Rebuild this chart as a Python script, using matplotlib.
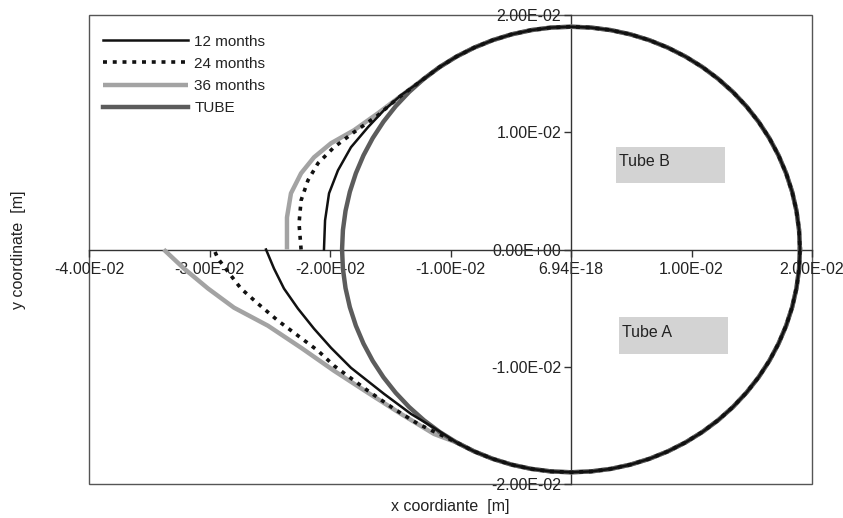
import matplotlib
matplotlib.use("Agg")
import matplotlib.pyplot as plt
from matplotlib.patches import Rectangle

plt.rcParams['font.family'] = ['Liberation Sans', 'DejaVu Sans']

# ---- data ----
# undeformed tube outline, points every 5 degrees starting at the right (x>0, y=0)
tube_x = [0.0190, 0.018928, 0.018711, 0.018353, 0.017854, 0.01722, 0.016455, 0.015564, 0.014555,
          0.013435, 0.012213, 0.010898, 0.0095, 0.00803, 0.006498, 0.004918, 0.003299, 0.001656,
          0.0, -0.001656, -0.003299, -0.004918, -0.006498, -0.00803, -0.0095, -0.010898, -0.012213,
          -0.013435, -0.014555, -0.015564, -0.016455, -0.01722, -0.017854, -0.018353, -0.018711, -0.018928,
          -0.0190, -0.018928, -0.018711, -0.018353, -0.017854, -0.01722, -0.016455, -0.015564, -0.014555,
          -0.013435, -0.012213, -0.010898, -0.0095, -0.00803, -0.006498, -0.004918, -0.003299, -0.001656,
          0.0, 0.001656, 0.003299, 0.004918, 0.006498, 0.00803, 0.0095, 0.010898, 0.012213,
          0.013435, 0.014555, 0.015564, 0.016455, 0.01722, 0.017854, 0.018353, 0.018711, 0.018928, 0.0190]
tube_y = [0.0, 0.001656, 0.003299, 0.004918, 0.006498, 0.00803, 0.0095, 0.010898, 0.012213,
          0.013435, 0.014555, 0.015564, 0.016455, 0.01722, 0.017854, 0.018353, 0.018711, 0.018928,
          0.0190, 0.018928, 0.018711, 0.018353, 0.017854, 0.01722, 0.016455, 0.015564, 0.014555,
          0.013435, 0.012213, 0.010898, 0.0095, 0.00803, 0.006498, 0.004918, 0.003299, 0.001656,
          0.0, -0.001656, -0.003299, -0.004918, -0.006498, -0.00803, -0.0095, -0.010898, -0.012213,
          -0.013435, -0.014555, -0.015564, -0.016455, -0.01722, -0.017854, -0.018353, -0.018711, -0.018928,
          -0.0190, -0.018928, -0.018711, -0.018353, -0.017854, -0.01722, -0.016455, -0.015564, -0.014555,
          -0.013435, -0.012213, -0.010898, -0.0095, -0.00803, -0.006498, -0.004918, -0.003299, -0.001656, 0.0]

# deformed upper parts (from the x axis upward)
m12_up_x = [-0.0205, -0.02041, -0.02008, -0.01934, -0.01826, -0.01685, -0.01552, -0.01411]
m12_up_y = [0.0, 0.00248, 0.00479, 0.00675, 0.00872, 0.01043, 0.01188, 0.01316]
m24_up_x = [-0.0224, -0.02257, -0.0224, -0.02183, -0.0210, -0.01967, -0.01801, -0.01602, -0.01436]
m24_up_y = [0.0, 0.00222, 0.00419, 0.0059, 0.00735, 0.00872, 0.0100, 0.01145, 0.01291]
m36_up_x = [-0.02357, -0.02357, -0.02324, -0.0224, -0.02133, -0.01992, -0.01801, -0.01602, -0.01436]
m36_up_y = [0.0, 0.00274, 0.00479, 0.0065, 0.00786, 0.00906, 0.01017, 0.01162, 0.01291]

# deformed lower parts (from the x axis downward)
m12_lo_x = [-0.02531, -0.02465, -0.02382, -0.02266, -0.02133, -0.01992, -0.01826, -0.01552, -0.01328, -0.01137]
m12_lo_y = [0.0, -0.00162, -0.00333, -0.00504, -0.00675, -0.00838, -0.01009, -0.01231, -0.01402, -0.01521]
m24_lo_x = [-0.02963, -0.0293, -0.02822, -0.02739, -0.02598, -0.02432, -0.02266, -0.0210, -0.01967, -0.01685, -0.01469, -0.0127]
m24_lo_y = [0.0, -0.00077, -0.00222, -0.00333, -0.00462, -0.00607, -0.00735, -0.00863, -0.00991, -0.01205, -0.01359, -0.01487]
m36_lo_x = [-0.0338, -0.03212, -0.03012, -0.02797, -0.02515, -0.0224, -0.01967, -0.01685, -0.01411, -0.01137]
m36_lo_y = [0.0, -0.00162, -0.00333, -0.00496, -0.0065, -0.00838, -0.01034, -0.01222, -0.01402, -0.01573]

series_labels = ["12 months", "24 months", "36 months", "TUBE"]
x_ticks = [-0.04, -0.03, -0.02, -0.01, 0.0, 0.01, 0.02]
x_tick_labels = ["-4.00E-02", "-3.00E-02", "-2.00E-02", "-1.00E-02", "6.94E-18", "1.00E-02", "2.00E-02"]
y_ticks = [-0.02, -0.01, 0.0, 0.01, 0.02]
y_tick_labels = ["-2.00E-02", "-1.00E-02", "0.00E+00", "1.00E-02", "2.00E-02"]
box_labels = ["Tube B", "Tube A"]


def build(up_x, up_y, lo_x, lo_y):
    # upper deformed part, shared tube arc (130 deg -> 0 -> 240 deg), lower part back to axis
    arc_x = tube_x[26::-1] + tube_x[71:47:-1]
    arc_y = tube_y[26::-1] + tube_y[71:47:-1]
    return up_x + arc_x + lo_x[::-1], up_y + arc_y + lo_y[::-1]


fig = plt.figure(figsize=(8.43, 5.18), dpi=100)
ax = fig.add_axes([89 / 843, 1 - 484 / 518, (812 - 89) / 843, (484 - 15) / 518])

c12x, c12y = build(m12_up_x, m12_up_y, m12_lo_x, m12_lo_y)
c24x, c24y = build(m24_up_x, m24_up_y, m24_lo_x, m24_lo_y)
c36x, c36y = build(m36_up_x, m36_up_y, m36_lo_x, m36_lo_y)

l36, = ax.plot(c36x, c36y, color='#a3a3a3', lw=3.2, solid_capstyle='butt', zorder=3)
lt, = ax.plot(tube_x, tube_y, color='#5c5c5c', lw=3.2, zorder=4)
l24, = ax.plot(c24x, c24y, color='#111111', lw=2.6, linestyle=(0, (1.1, 1.6)), zorder=5)
l12, = ax.plot(c12x, c12y, color='#111111', lw=1.8, zorder=6)

ax.set_xlim(-0.04, 0.02)
ax.set_ylim(-0.02, 0.02)

# axes crossing at zero
for s in ['top', 'right']:
    ax.spines[s].set_visible(False)
ax.spines['left'].set_position(('data', 0))
ax.spines['bottom'].set_position(('data', 0))
for s in ['left', 'bottom']:
    ax.spines[s].set_color('#333333')
    ax.spines[s].set_linewidth(1.0)
ax.add_patch(Rectangle((0, 0), 1, 1, transform=ax.transAxes, fill=False,
                       edgecolor='#555555', lw=1.0, zorder=1, clip_on=False))

ax.set_xticks(x_ticks)
ax.set_xticklabels(x_tick_labels)
ax.set_yticks(y_ticks)
ax.set_yticklabels(y_tick_labels)
ax.tick_params(axis='both', direction='out', length=5, width=1, color='#333333',
               labelsize=11.5, labelcolor='#222222')
ax.tick_params(axis='x', pad=4)
ax.tick_params(axis='y', pad=2)

# grey text boxes
ax.add_patch(Rectangle((0.00373, 0.00564), 0.00905, 0.00308, facecolor='#d3d3d3',
                       edgecolor='none', zorder=2))
ax.text(0.0040, 0.0075, box_labels[0], fontsize=11.5, color='#222222', va='center', ha='left', zorder=7)
ax.add_patch(Rectangle((0.00398, -0.00889), 0.00905, 0.00316, facecolor='#d3d3d3',
                       edgecolor='none', zorder=2))
ax.text(0.00423, -0.0071, box_labels[1], fontsize=11.5, color='#222222', va='center', ha='left', zorder=7)

fig.text(450 / 843, 1 - 507 / 518, "x coordiante  [m]", fontsize=11.5, color='#222222',
         ha='center', va='center')
fig.text(19 / 843, 1 - 250 / 518, "y coordinate  [m]", fontsize=11.5, color='#222222',
         ha='center', va='center', rotation=90)

leg = ax.legend([l12, l24, l36, lt], series_labels, loc='upper left',
                bbox_to_anchor=(0.019, 0.958), frameon=False, fontsize=11,
                handlelength=5.6, handletextpad=0.4, labelspacing=0.53,
                borderpad=0, borderaxespad=0)
for t in leg.get_texts():
    t.set_color('#222222')

fig.savefig("out.png", dpi=100)
